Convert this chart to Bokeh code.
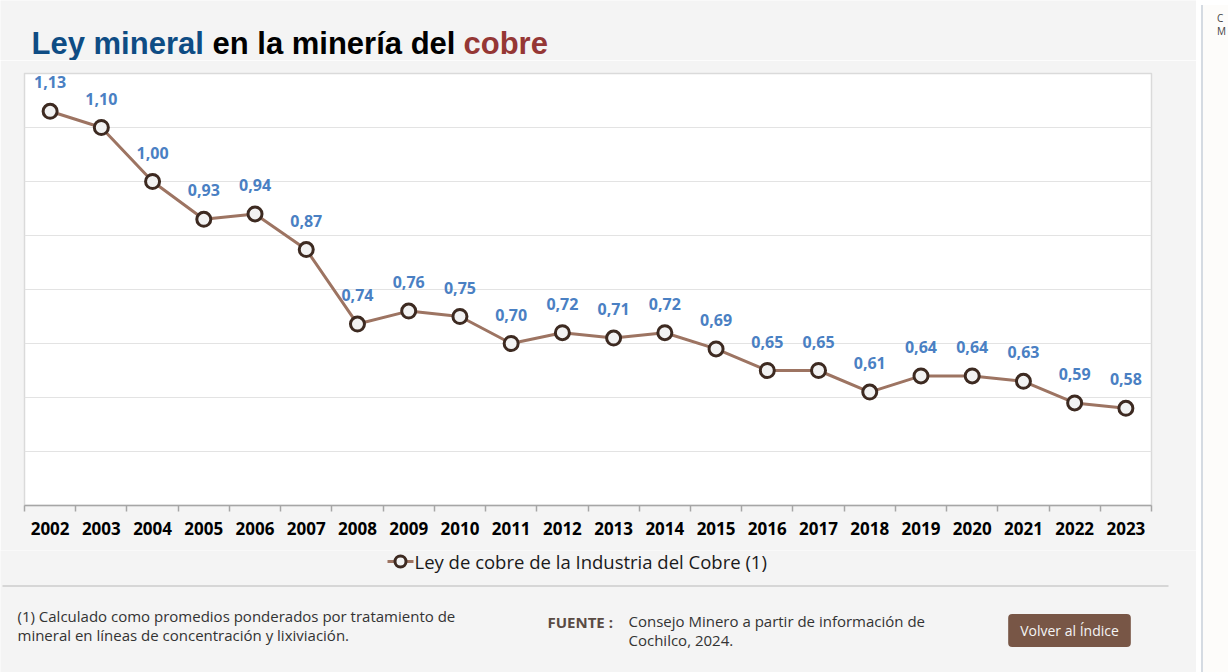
from bokeh.plotting import figure
from bokeh.layouts import column, row
from bokeh.models import (Range1d, FixedTicker, Label, LabelSet, ColumnDataSource, Div)
from bokeh.core.properties import value
from bokeh.embed import file_html
from bokeh.resources import INLINE

# ---------------- data ----------------
years = [2002, 2003, 2004, 2005, 2006, 2007, 2008, 2009, 2010, 2011, 2012,
         2013, 2014, 2015, 2016, 2017, 2018, 2019, 2020, 2021, 2022, 2023]
ley = [1.13, 1.10, 1.00, 0.93, 0.94, 0.874, 0.736, 0.76, 0.75, 0.70, 0.72,
       0.71, 0.72, 0.69, 0.65, 0.65, 0.61, 0.64, 0.64, 0.63, 0.59, 0.58]
y_ticks = [0.40, 0.50, 0.60, 0.70, 0.80, 0.90, 1.00, 1.10, 1.20]
series_name = "Ley de cobre de la Industria del Cobre (1)"
title_parts = ["Ley mineral", "en la minería del", "cobre"]
note_lines = ["(1) Calculado como promedios ponderados por tratamiento de",
              "mineral en líneas de concentración y lixiviación."]
source_label = "FUENTE :"
source_lines = ["Consejo Minero a partir de información de", "Cochilco, 2024."]
button_text = "Volver al Índice"

def fmt(v):
    return f"{v:.2f}".replace(".", ",")

labels = [fmt(v) for v in ley]

BG = "#f4f4f4"
PANEL = "#fdfcfa"
DIVIDER = "#d5dbe2"
W, H = 1228, 672
LEFT_W = 1196
HEAD_H, MAIN_H = 60, 490
FOOT_H = H - HEAD_H - MAIN_H
LINE_C, DOT_LINE, DOT_FILL = "#9d7462", "#3d2a21", "#f2f2f2"


def blank(width, height, y0):
    f = figure(width=width, height=height, output_backend="svg", toolbar_location=None,
               x_range=Range1d(0, width), y_range=Range1d(y0 + height, y0),
               x_axis_type=None, y_axis_type=None,
               min_border_left=0, min_border_right=0, min_border_top=0, min_border_bottom=0,
               background_fill_color=BG, border_fill_color=BG, outline_line_color=None)
    f.grid.visible = False
    return f

# ---------------- header ----------------
head = blank(LEFT_W, HEAD_H, 0)
title_x = [31, 212, 463]
title_c = ["#0e4c84", "#000000", "#953735"]
for part, tx, tc in zip(title_parts, title_x, title_c):
    head.add_layout(Label(x=tx, y=43, text=part, text_font="Liberation Sans",
                          text_font_style="bold", text_font_size="31px", text_color=tc,
                          text_baseline="alphabetic"))

# ---------------- main chart ----------------
L, T, B = 24, 13, 445   # frame edges inside the main figure
p = figure(width=LEFT_W, height=MAIN_H, output_backend="svg", toolbar_location=None,
           x_range=Range1d(years[0] - 0.5, years[-1] + 0.5),
           y_range=Range1d(y_ticks[0], y_ticks[-1]),
           min_border_left=L, min_border_right=LEFT_W - 1151,
           min_border_top=T, min_border_bottom=MAIN_H - B,
           background_fill_color="white", border_fill_color=BG,
           outline_line_color="#dadada", outline_line_width=1.5)

p.yaxis.visible = False
p.ygrid.ticker = FixedTicker(ticks=y_ticks)
p.ygrid.grid_line_color = "#e3e3e3"
p.ygrid.grid_line_width = 1
p.xgrid.visible = False

xa = p.xaxis[0]
xa.ticker = FixedTicker(ticks=years, minor_ticks=[y - 0.5 for y in years] + [years[-1] + 0.5])
xa.major_label_overrides = {y: str(y) for y in years}
xa.major_tick_out = 0
xa.major_tick_in = 0
xa.minor_tick_out = 6
xa.minor_tick_in = 0
xa.minor_tick_line_color = "#a6a6a6"
xa.minor_tick_line_width = 1.5
xa.axis_line_color = "#a6a6a6"
xa.axis_line_width = 1.5
xa.major_label_text_font = "Open Sans"
xa.major_label_text_font_style = "bold"
xa.major_label_text_font_size = "17px"
xa.major_label_text_color = "#000000"
xa.major_label_standoff = 10

p.line(years, ley, line_color=LINE_C, line_width=3)
p.scatter(years, ley, size=14, fill_color=DOT_FILL, line_color=DOT_LINE, line_width=3)
p.text(years, ley, text=labels, text_align="center", text_baseline="middle",
       y_offset=-29, text_font=value("Open Sans"), text_font_style="bold",
       text_font_size="16px", text_color="#4a80c3")

# faint y tick labels (white on light grey)
ysrc = ColumnDataSource(dict(y=y_ticks, t=[fmt(v) for v in y_ticks]))
p.add_layout(LabelSet(x=-3, y="y", text="t", x_units="screen", source=ysrc,
                      text_align="right", text_baseline="middle",
                      text_font=value("Open Sans"), text_font_size="9px",
                      text_color="#ffffff"))

# ---------------- footer ----------------
foot = blank(LEFT_W, FOOT_H, HEAD_H + MAIN_H)   # y in page pixels, downward

# legend (line + marker + label)
foot.line([387, 413], [561, 561], line_color=LINE_C, line_width=3)
foot.scatter([400], [561], size=11, fill_color=DOT_FILL, line_color=DOT_LINE, line_width=3)
foot.add_layout(Label(x=414, y=561, text=series_name, text_font="Open Sans",
                      text_font_size="18.5px", text_color="#1a1a1a", text_baseline="middle"))

# separator
foot.segment(x0=[2], x1=[1168], y0=[585.5], y1=[585.5], line_color="#d6d6d6", line_width=2)

for line, cy in zip(note_lines, [615, 634]):
    foot.add_layout(Label(x=17, y=cy, text=line, text_font="Open Sans",
                          text_font_size="15px", text_color="#333333",
                          text_baseline="middle"))
foot.add_layout(Label(x=547, y=621, text=source_label, text_font="Open Sans",
                      text_font_style="bold", text_font_size="15px",
                      text_color="#5a4b44", text_baseline="middle"))
for line, cy in zip(source_lines, [620, 639]):
    foot.add_layout(Label(x=628, y=cy, text=line, text_font="Open Sans",
                          text_font_size="15px", text_color="#333333",
                          text_baseline="middle"))
foot.add_layout(Label(x=1069, y=630, text=button_text, text_align="center",
                      text_baseline="middle", text_font="Open Sans",
                      text_font_size="14px", text_color="#f4f4f4",
                      background_fill_color="#785646", background_fill_alpha=1,
                      border_line_alpha=0, padding=(12, 7), border_radius=4))

# ---------------- right side panel ----------------
side = Div(text="C<br>M", width=W - LEFT_W, height=H,
           styles={"background-color": PANEL, "box-shadow": f"inset 2px 0 0 {DIVIDER}",
                   "font-family": "Open Sans", "font-size": "10px", "color": "#444444",
                   "line-height": "13px", "padding-top": "7px", "padding-left": "16px",
                   "box-sizing": "border-box", "overflow": "hidden", "white-space": "nowrap"})

layout = row(column(head, row(p, spacing=0), foot, spacing=0), side, spacing=0)
open("out.html", "w").write(file_html(layout, INLINE))
